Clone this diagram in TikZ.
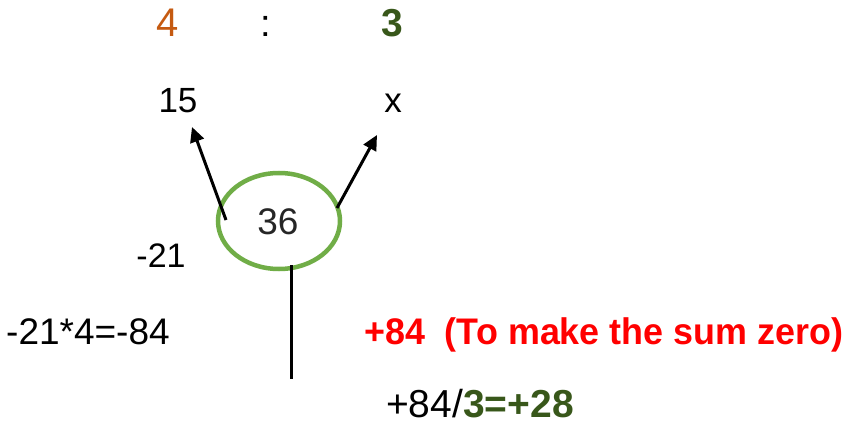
\documentclass[tikz,border=0pt]{standalone}
\usepackage{fontspec}
\setmainfont{Liberation Sans}
\usetikzlibrary{arrows.meta,shapes.geometric}
\definecolor{orng}{HTML}{C55A11}
\definecolor{dgreen}{HTML}{38571A}
\definecolor{lgreen}{HTML}{70AD47}
\definecolor{txt}{HTML}{262626}
\newcommand{\fs}[1]{\fontsize{#1}{#1}\selectfont}
\tikzset{
  lbl/.style={inner sep=0pt, anchor=base, text=black},
  arr/.style={line width=3pt, -{Triangle[length=15pt,width=14pt]}},
}
\begin{document}
\begin{tikzpicture}[x=1pt,y=-1pt]
\useasboundingbox (0,0) rectangle (847,425);
\node[lbl, text=orng, font=\fs{40}] (four) at (167.5,37) {4};
\node[lbl, font=\fs{38}] (colon) at (265.5,37) {:};
\node[lbl, text=dgreen, font=\fs{39}\bfseries] (three) at (392.5,37) {3};
\node[lbl, font=\fs{35}] (fifteen) at (178,113) {15};
\node[lbl, font=\fs{35}] (x) at (393,113) {x};
\node[draw=lgreen, line width=4.5pt, ellipse, minimum width=122pt, minimum height=96pt, inner sep=0pt] (circ) at (279,221) {};
\node[lbl, text=txt, font=\fs{37}] (c36) at (278,235) {36};
\coordinate (la) at (226,220);
\coordinate (ra) at (337,208);
\coordinate (lt) at (192,127);
\coordinate (rt) at (377,135);
\draw[arr] (la) -- (lt);
\draw[arr] (ra) -- (rt);
\coordinate (vt) at (291,265);
\coordinate (vb) at (291,379);
\draw[line width=3pt] (vt) -- (vb);
\node[lbl, font=\fs{34}] (m21) at (161,267) {-21};
\node[lbl, anchor=base west, font=\fs{37}] (calc) at (6,344) {-21*4=-84};
\node[lbl, anchor=base west, text=red, font=\fs{37}\bfseries, xscale=0.97] (sum) at (364,344) {+84\ \ (To make the sum zero)};
\node[lbl, anchor=base west, font=\fs{39}] (div) at (386,417) {+84/\textcolor{dgreen}{\bfseries 3=+28}};
\end{tikzpicture}
\end{document}
